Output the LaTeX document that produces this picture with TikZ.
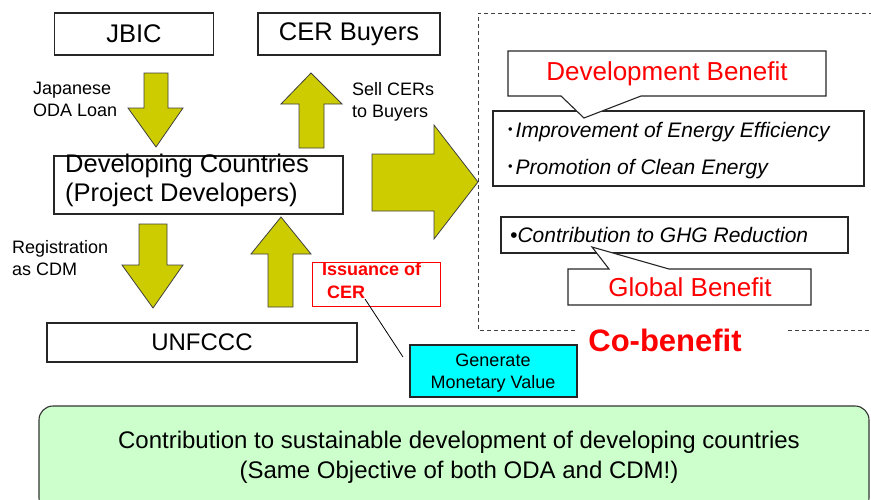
\documentclass[tikz,border=0pt]{standalone}
\usepackage{fontspec}
\setmainfont{Liberation Sans}
\newfontfamily\cjkfont{Noto Sans CJK JP}
\definecolor{arrowfill}{HTML}{CCCC00}
\definecolor{greenfill}{HTML}{CCFFCC}
\definecolor{cyanfill}{HTML}{00FFFF}
\definecolor{redtext}{HTML}{FF0000}
\tikzset{
  box/.style={draw=black!85, line width=1.1pt, fill=white, inner sep=0pt},
  blockarrow/.style={draw=black!75, line width=0.8pt, fill=arrowfill, line join=miter},
  bigtxt/.style={font=\fontsize{25.5}{30}\selectfont, inner sep=0pt},
  midtxt/.style={font=\fontsize{24}{30}\selectfont, inner sep=0pt},
  smalltxt/.style={font=\fontsize{18}{22}\selectfont, inner sep=0pt, align=left},
  ittxt/.style={font=\fontsize{21}{25}\selectfont\itshape, inner sep=0pt},
  redbig/.style={font=\fontsize{26}{30}\selectfont, text=redtext, inner sep=0pt},
  dashline/.style={draw=black!75, line width=0.9pt, dash pattern=on 4pt off 3pt},
}
\begin{document}
\begin{tikzpicture}[x=1pt, y=-1pt]
\useasboundingbox (0,0) rectangle (871,499);
\clip (0,0) rectangle (871,499);

% top boxes
\node[box, minimum width=159pt, minimum height=42pt] (jbic) at (134,34) {};
\node[bigtxt] (jbict) at (jbic) {JBIC};
\node[box, minimum width=182pt, minimum height=42pt] (cerb) at (349,34) {};
\node[bigtxt] (cerbt) at (cerb) {CER Buyers};

% arrows top
\draw[blockarrow] (144,73) -- (168,73) -- (168,108) -- (183,108) -- (156,147) -- (128,108) -- (144,108) -- cycle;
\draw[blockarrow] (299,148) -- (324,148) -- (324,104) -- (342,104) -- (311,73) -- (281,104) -- (299,104) -- cycle;
\node[smalltxt, anchor=west] (oda) at (33,99) {Japanese\\ODA Loan};
\node[smalltxt, anchor=west] (sell) at (352,101.5) {Sell CERs\\to Buyers};

% developing countries
\node[box, minimum width=289pt, minimum height=58pt] (dc) at (198.5,185) {};
\node[bigtxt, anchor=base west] (dc1) at (65,172) {Developing Countries};
\node[bigtxt, anchor=base west] (dc2) at (65,201) {(Project Developers)};

% big right arrow
\draw[blockarrow] (372,154) -- (434,154) -- (434,125) -- (478,182) -- (434,239) -- (434,211) -- (372,211) -- cycle;

% lower arrows
\draw[blockarrow] (139,224) -- (167,224) -- (167,265) -- (183,265) -- (153,308) -- (122,265) -- (139,265) -- cycle;
\draw[blockarrow] (268,307) -- (293,307) -- (293,254) -- (311,254) -- (281,217) -- (251,254) -- (268,254) -- cycle;
\node[smalltxt, anchor=west] (reg) at (12,258) {Registration\\as CDM};

% issuance
\node[draw=redtext, line width=0.9pt, fill=white, minimum width=128pt, minimum height=44pt, inner sep=0pt] (iss) at (376,284) {};
\node[font=\fontsize{18}{23}\selectfont\bfseries, text=redtext, inner sep=0pt, align=left, anchor=north west] (isst) at (322,262) {Issuance of\\\hspace*{5pt}CER};

% UNFCCC
\node[box, minimum width=310pt, minimum height=39pt] (unf) at (202,342.5) {};
\node[midtxt] (unft) at (unf) {UNFCCC};

% generate
\node[draw=black!85, line width=1.1pt, fill=cyanfill, minimum width=167pt, minimum height=52pt, inner sep=0pt] (gen) at (493.5,371) {};
\node[smalltxt, align=center] (gent) at (493,373) {Generate\\Monetary Value};
\coordinate (issEnd) at (365,299);
\coordinate (genEnd) at (403,357);
\draw[black, line width=0.8pt] (issEnd) -- (genEnd);

% dashed co-benefit frame
\coordinate (fTL) at (478,13);
\coordinate (fTR) at (880,13);
\coordinate (fBL) at (478,330);
\coordinate (fB1) at (577,330);
\coordinate (fB2) at (788,330);
\coordinate (fBR) at (880,330);
\draw[dashline] (fTR) -- (fTL) -- (fBL) -- (fB1);
\draw[dashline] (fB2) -- (fBR);

% development benefit
\node[box, minimum width=371pt, minimum height=75pt] (imp) at (678.5,148.5) {};
\node[ittxt, anchor=base west] (imp1) at (505,137) {{\cjkfont ･}Improvement of Energy Efficiency};
\node[ittxt, anchor=base west] (imp2) at (505,174) {{\cjkfont ･}Promotion of Clean Energy};
\draw[draw=black!85, line width=1.1pt, fill=white] (508,51) -- (826,51) -- (826,96) -- (641,96) -- (584,118) -- (561,96) -- (508,96) -- cycle;
\node[redbig] (devb) at (667,73.5) {Development Benefit};

% global benefit
\node[box, minimum width=347pt, minimum height=36pt] (ghg) at (674.5,235) {};
\node[ittxt, anchor=base west] (ghgt) at (510,242) {•Contribution to GHG Reduction};
\draw[draw=black!85, line width=1.1pt, fill=white] (568,269) -- (609,269) -- (592,247) -- (669,269) -- (811,269) -- (811,305) -- (568,305) -- cycle;
\node[redbig] (glob) at (690,287.5) {Global Benefit};

\node[font=\fontsize{31}{36}\selectfont\bfseries, text=redtext, inner sep=0pt] (cob) at (665,340) {Co-benefit};

% bottom green box
\draw[draw=black!80, line width=1.1pt, fill=greenfill, rounded corners=14pt] (39,406) rectangle (869,512);
\node[font=\fontsize{24}{30}\selectfont, align=center, inner sep=0pt] (sust) at (459,457) {Contribution to sustainable development of developing countries\\(Same Objective of both ODA and CDM!)};
\end{tikzpicture}
\end{document}
